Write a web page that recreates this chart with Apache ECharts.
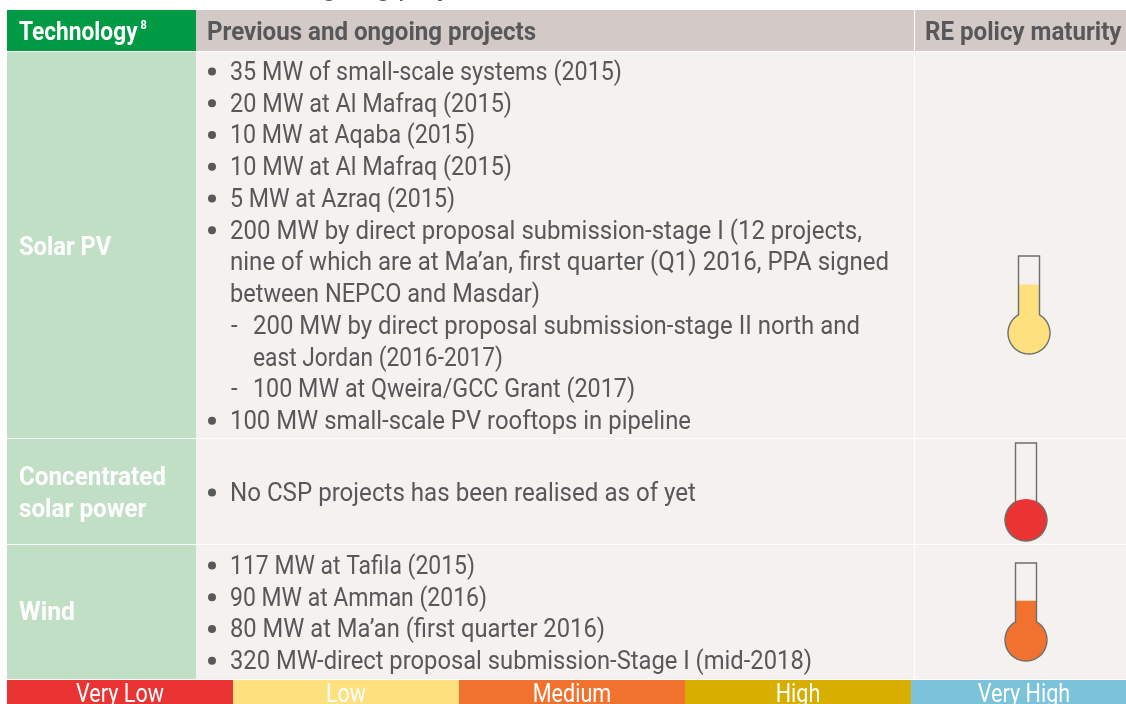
<!DOCTYPE html>
<html>
<head>
<meta charset="utf-8">
<style>
  html, body { margin: 0; padding: 0; background: #fff; }
  #main { width: 1126px; height: 704px; }
</style>
<script src="https://cdn.jsdelivr.net/npm/echarts@6/dist/echarts.min.js"></script>
</head>
<body>
<div id="main"></div>
<script>
// table content
var headers = ["Technology", "Previous and ongoing projects", "RE policy maturity"];
var technologies = ["Solar PV", "Concentrated\nsolar power", "Wind"];
// "* " bullet, "+ " bullet continuation, "- " sub item, "= " sub item continuation
var solarProjects = [
  "* 35 MW of small-scale systems (2015)",
  "* 20 MW at Al Mafraq (2015)",
  "* 10 MW at Aqaba (2015)",
  "* 10 MW at Al Mafraq (2015)",
  "* 5 MW at Azraq (2015)",
  "* 200 MW by direct proposal submission-stage I (12 projects,",
  "+ nine of which are at Ma\u2019an, first quarter (Q1) 2016, PPA signed",
  "+ between NEPCO and Masdar)",
  "- 200 MW by direct proposal submission-stage II north and",
  "= east Jordan (2016-2017)",
  "- 100 MW at Qweira/GCC Grant (2017)",
  "* 100 MW small-scale PV rooftops in pipeline"
];
var cspProjects = ["* No CSP projects has been realised as of yet"];
var windProjects = [
  "* 117 MW at Tafila (2015)",
  "* 90 MW at Amman (2016)",
  "* 80 MW at Ma\u2019an (first quarter 2016)",
  "* 320 MW-direct proposal submission-Stage I (mid-2018)"
];
// thermometer fill, 0 = bulb centre, 1 = top of tube
var maturityFill = [0.63, 0.25, 0.51];
var maturityColors = ["#fee17e", "#e93433", "#f1722f"];
var scaleLabels = ["Very Low", "Low", "Medium", "High", "Very High"];
var scaleColors = ["#e93433", "#fee17e", "#f1722f", "#d6ae00", "#7bc3da"];

// layout, in page pixels
var colEdges = [7, 196, 914, 1126];
var rowEdges = [52, 438, 544, 679];
var headerTop = 10, headerBottom = 51;
var scaleLeft = 7, scaleStep = 226;
var scaleTop = 680, scaleBottom = 704;
var lineTops = [73.5, 494.5, 567.5];
var linePitch = 31.75;
// right edge of each project line, the font has no condensed cut so lines get squeezed to it
var lineEnds = [
  [622, 512, 475, 512, 455, 862, 889, 540, 860, 503, 635, 691],
  [696],
  [475, 487, 605, 812]
];
var techSqueeze = [0.93, 0.95, 0.97];
var thermoCx = [1029, 1026, 1026], thermoCy = [333, 520, 640];
var thermoTop = 77, tubeHalf = 10.5, bulbR = 21;

var textFont = '25px Roboto, sans-serif';
var boldFont = 'bold 25.5px Roboto, sans-serif';
var scaleFont = '26px Roboto, sans-serif';
var textColor = "#58585a";

var chart = echarts.init(document.getElementById("main"));
var measure = document.createElement("canvas").getContext("2d");

function rect(api, x0, y0, x1, y1, color) {
  var a = api.coord([x0, y0]), b = api.coord([x1, y1]);
  return { type: "rect", shape: { x: a[0], y: a[1], width: b[0] - a[0], height: b[1] - a[1] }, style: { fill: color } };
}

function label(api, x, y, str, font, color, squeeze, align) {
  var p = api.coord([x, y]);
  return {
    type: "text", x: p[0], y: p[1], scaleX: squeeze,
    style: { text: str, font: font, fill: color, align: align || "left", verticalAlign: "middle", lineHeight: 32 }
  };
}

function squeezeTo(str, font, width) {
  measure.font = font;
  return width / measure.measureText(str).width;
}

function drawTable(params, api) {
  var kids = [];
  // header
  kids.push(rect(api, colEdges[0], headerTop, colEdges[1], headerBottom, "#009a44"));
  kids.push(rect(api, colEdges[1], headerTop, colEdges[2], headerBottom, "#d3cac7"));
  kids.push(rect(api, colEdges[2] + 1, headerTop, colEdges[3], headerBottom, "#d3cac7"));
  kids.push(label(api, 19, 33.5, headers[0], boldFont, "#fff", 0.89));
  kids.push(label(api, 140.5, 26, "8", 'bold 13px Roboto, sans-serif', "#fff", 0.85));
  kids.push(label(api, 207, 33.5, headers[1], boldFont, textColor, 0.945));
  kids.push(label(api, 925, 33.5, headers[2], boldFont, textColor, 0.945));
  // title line above the table, only the descenders stay on the page
  kids.push(label(api, 290, -12.5, "ongoing projects", '28px Roboto, sans-serif', textColor, 1));
  // body cells
  technologies.forEach(function (name, i) {
    var top = i ? rowEdges[i] + 1 : rowEdges[0];
    var bottom = rowEdges[i + 1];
    kids.push(rect(api, colEdges[0], top, colEdges[1], bottom, "#c1dfc5"));
    kids.push(rect(api, colEdges[1], top, colEdges[2], bottom, "#f4f1ef"));
    kids.push(rect(api, colEdges[2] + 1, top, colEdges[3], bottom, "#f4f1ef"));
    kids.push(label(api, 19, [248.5, 494.5, 613.5][i], name, boldFont, "#fff", techSqueeze[i]));
  });
  // project lines
  [solarProjects, cspProjects, windProjects].forEach(function (lines, r) {
    lines.forEach(function (line, j) {
      var y = lineTops[r] + j * linePitch;
      var mark = line.charAt(0), str = line.slice(2);
      if (mark === "*") {
        var dot = api.coord([212, y - 2]);
        kids.push({ type: "circle", shape: { cx: dot[0], cy: dot[1], r: 4 }, style: { fill: textColor } });
      }
      if (mark === "-") kids.push(label(api, 231, y, "-", textFont, textColor, 0.955));
      var x = (mark === "*" || mark === "+") ? 230 : 253;
      kids.push(label(api, x, y, str, textFont, textColor, squeezeTo(str, textFont, lineEnds[r][j] - x)));
    });
  });
  // colour scale
  scaleLabels.forEach(function (name, i) {
    var x0 = scaleLeft + i * scaleStep;
    kids.push(rect(api, x0, scaleTop, Math.min(x0 + scaleStep, 1126), scaleBottom, scaleColors[i]));
    kids.push(label(api, x0 + scaleStep / 2, 695.5, name, scaleFont, "#fff", 0.83, "center"));
  });
  return { type: "group", children: kids };
}

function drawThermometer(params, api) {
  var i = params.dataIndex;
  var cx = thermoCx[i], cy = thermoCy[i];
  var fillTop = cy - api.value(1) * thermoTop;
  var c = api.coord([cx, cy]);
  var join = Math.asin(tubeHalf / bulbR);
  var outline = [api.coord([cx - tubeHalf, cy - thermoTop]), api.coord([cx + tubeHalf, cy - thermoTop])];
  for (var k = 0; k <= 48; k++) {
    var a = join + (2 * Math.PI - 2 * join) * k / 48;
    outline.push(api.coord([cx + bulbR * Math.sin(a), cy - bulbR * Math.cos(a)]));
  }
  var color = maturityColors[i];
  return {
    type: "group",
    children: [
      { type: "circle", shape: { cx: c[0], cy: c[1], r: bulbR }, style: { fill: color } },
      rect(api, cx - tubeHalf, fillTop, cx + tubeHalf, cy, color),
      { type: "polygon", shape: { points: outline }, style: { fill: "none", stroke: "#6e6e6e", lineWidth: 1.4 } }
    ]
  };
}

chart.setOption({
  animation: false,
  grid: { left: 0, right: 0, top: 0, bottom: 0 },
  xAxis: { type: "value", min: 0, max: 1126, show: false },
  yAxis: { type: "value", min: 0, max: 704, inverse: true, show: false },
  series: [
    { type: "custom", silent: true, clip: false, data: [[0, 0]], renderItem: drawTable },
    {
      type: "custom", silent: true, clip: false, z: 3, renderItem: drawThermometer,
      data: maturityFill.map(function (v, i) { return [i, v]; })
    }
  ]
});
</script>
</body>
</html>
